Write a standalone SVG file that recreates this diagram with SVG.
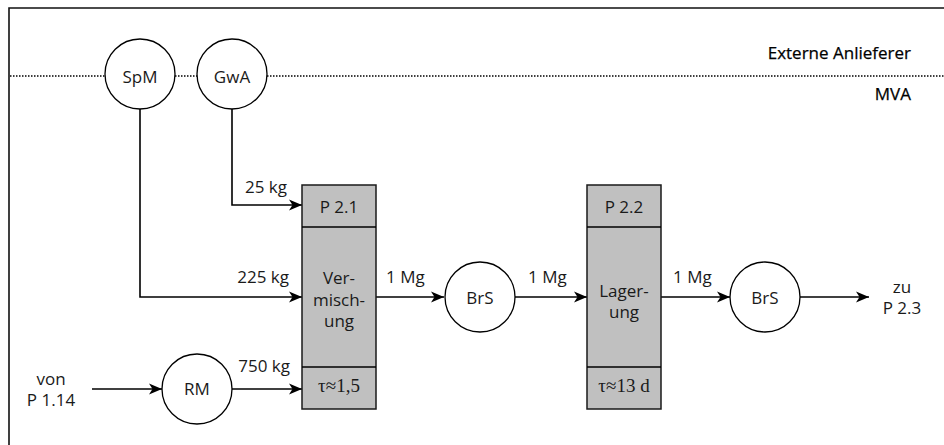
<svg xmlns="http://www.w3.org/2000/svg" width="944" height="445" viewBox="0 0 944 445">
<defs>
<style>
.t{font-family:"Open Sans","Noto Sans",sans-serif;font-size:17px;fill:#1a1a1a}
.h{font-family:"Open Sans","Noto Sans",sans-serif;font-size:17px;fill:#000;stroke:#000;stroke-width:0.25;text-anchor:end}
.m{text-anchor:middle}
.e{text-anchor:end}
.s{font-family:"Liberation Serif","Times New Roman",serif;font-size:19px;fill:#1a1a1a;text-anchor:middle}
.c{fill:#fff;stroke:#000;stroke-width:1.3}
.b{fill:#c0c0c0;stroke:#1a1a1a;stroke-width:1.5}
.l{fill:none;stroke:#000;stroke-width:1.3}
.a{fill:none;stroke:#000;stroke-width:1.6;marker-end:url(#ah)}
.d{fill:none;stroke:#000;stroke-width:1.5;stroke-dasharray:1.5 1.5}
</style>
<marker id="ah" markerUnits="userSpaceOnUse" markerWidth="14" markerHeight="12" refX="13" refY="6" orient="auto">
<path d="M0,0.5 L13,6 L0,11.5 L3.5,6 Z" fill="#000"/>
</marker>
</defs>
<rect width="944" height="445" fill="#fff"/>
<g id="frame">
<path d="M9,445 V8 H944" fill="none" stroke="#111" stroke-width="1.6"/>
<path class="d" d="M10,76 H105 M175,76 H197 M267,76 H944"/>
<text class="h" x="911" y="59">Externe Anlieferer</text>
<text class="h" x="911" y="100">MVA</text>
</g>
<g id="connectors">
<path class="a" d="M232,109 V205 H302"/>
<path class="a" d="M140,109 V297 H302"/>
<path class="a" d="M92,389 H162"/>
<path class="a" d="M232,389 H302"/>
<path class="a" d="M376,297 H444"/>
<path class="a" d="M515,297 H587"/>
<path class="a" d="M661,297 H730"/>
<path class="a" d="M800,297 H869"/>
<text class="t e" x="287" y="193">25 kg</text>
<text class="t e" x="289" y="283">225 kg</text>
<text class="t e" x="290" y="372">750 kg</text>
<text class="t" x="386" y="283">1 Mg</text>
<text class="t" x="528" y="283">1 Mg</text>
<text class="t" x="673" y="283">1 Mg</text>
<text class="t m" x="51" y="385">von</text>
<text class="t m" x="51" y="406">P 1.14</text>
<text class="t m" x="902" y="293">zu</text>
<text class="t m" x="902" y="314">P 2.3</text>
</g>
<g id="SpM"><circle class="c" cx="140" cy="74" r="35"/><text class="t m" x="140" y="83">SpM</text></g>
<g id="GwA"><circle class="c" cx="232" cy="74" r="35"/><text class="t m" x="232" y="83">GwA</text></g>
<g id="RM"><circle class="c" cx="197" cy="389" r="35"/><text class="t m" x="197" y="395">RM</text></g>
<g id="BrS1"><circle class="c" cx="480" cy="297" r="35"/><text class="t m" x="480" y="304">BrS</text></g>
<g id="BrS2"><circle class="c" cx="765" cy="297" r="35"/><text class="t m" x="765" y="304">BrS</text></g>
<g id="P2.1">
<rect class="b" x="302" y="185" width="74" height="224"/>
<path class="l" d="M302,227 H376 M302,367 H376"/>
<text class="t m" x="339" y="213">P 2.1</text>
<text class="t m" x="339" y="284">Ver-</text>
<text class="t m" x="339" y="306">misch-</text>
<text class="t m" x="339" y="327">ung</text>
<text class="s" x="339" y="392">τ≈1,5</text>
</g>
<g id="P2.2">
<rect class="b" x="587" y="185" width="74" height="224"/>
<path class="l" d="M587,227 H661 M587,367 H661"/>
<text class="t m" x="624" y="213">P 2.2</text>
<text class="t m" x="624" y="297">Lager-</text>
<text class="t m" x="624" y="318">ung</text>
<text class="s" x="624" y="392">τ≈13 d</text>
</g>
</svg>
